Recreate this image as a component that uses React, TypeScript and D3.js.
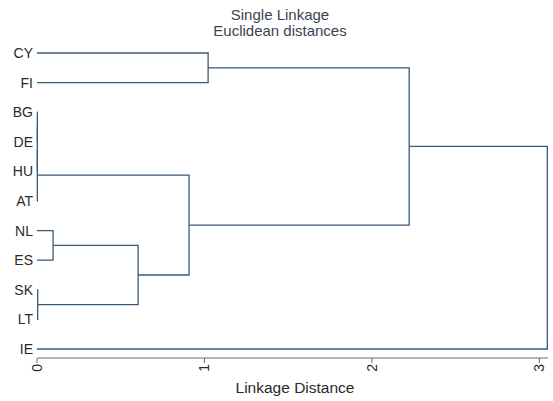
import React from "react";
import * as d3 from "d3";

const leaves = ["CY", "FI", "BG", "DE", "HU", "AT", "NL", "ES", "SK", "LT", "IE"];
// merges: [left, right, height] — named clusters c1..c10
const mergeNames = ["c1", "c2", "c3", "c4", "c5", "c6", "c7", "c8", "c9", "c10"];
const mergeLeft = ["BG", "c1", "c2", "SK", "NL", "c5", "c3", "CY", "c8", "c9"];
const mergeRight = ["DE", "HU", "AT", "LT", "ES", "c4", "c6", "FI", "c7", "IE"];
const mergeHeight = [0.002, 0.002, 0.002, 0.004, 0.096, 0.604, 0.908, 1.022, 2.223, 3.048];
const xTicks = [0, 1, 2, 3];

const W = 553;
const H = 401;

export default function App() {
  const x = d3.scaleLinear().domain([0, 3]).range([37, 539.3]);
  const y = d3.scalePoint<string>().domain(leaves).range([53, 349]);

  const pos: Record<string, { x: number; y: number }> = {};
  leaves.forEach((l) => (pos[l] = { x: x(0), y: y(l)! }));

  const paths: string[] = [];
  mergeNames.forEach((name, i) => {
    const a = pos[mergeLeft[i]];
    const b = pos[mergeRight[i]];
    const hx = x(mergeHeight[i]);
    const p = d3.path();
    p.moveTo(a.x, a.y);
    p.lineTo(hx, a.y);
    p.lineTo(hx, b.y);
    p.lineTo(b.x, b.y);
    paths.push(p.toString());
    pos[name] = { x: hx, y: (a.y + b.y) / 2 };
  });

  const axisY = 358;
  const stroke = "#3b5a78";
  const font = "'Liberation Sans', Arial, sans-serif";

  return (
    <svg
      width={W}
      height={H}
      style={{ position: "absolute", left: 0, top: 0, background: "#fff" }}
      fontFamily={font}
    >
      <rect x={0} y={0} width={W} height={H} fill="#fff" />
      <text x={280} y={20} textAnchor="middle" fontSize={15} fill="#3a4354">
        Single Linkage
      </text>
      <text x={280} y={36} textAnchor="middle" fontSize={15} fill="#3a4354">
        Euclidean distances
      </text>

      {/* leaf labels */}
      {leaves.map((l) => (
        <text
          key={l}
          x={33}
          y={y(l)!}
          textAnchor="end"
          dominantBaseline="central"
          fontSize={14}
          fill="#2a2a2a"
        >
          {l}
        </text>
      ))}

      {/* dendrogram */}
      {paths.map((d, i) => (
        <path key={i} d={d} fill="none" stroke={stroke} strokeWidth={1.3} />
      ))}

      {/* x axis */}
      <line x1={x(0)} x2={548} y1={axisY} y2={axisY} stroke="#6a6a6a" strokeWidth={1.2} />
      {xTicks.map((t) => (
        <g key={t} transform={`translate(${x(t)},0)`}>
          <line y1={axisY} y2={axisY + 5} stroke="#6a6a6a" strokeWidth={1} />
          <text
            transform={`translate(0,${axisY + 6}) rotate(-90)`}
            textAnchor="end"
            dominantBaseline="central"
            fontSize={14}
            fill="#2a2a2a"
          >
            {t}
          </text>
        </g>
      ))}
      <text x={295} y={393} textAnchor="middle" fontSize={15.5} fill="#2a2a2a">
        Linkage Distance
      </text>
    </svg>
  );
}
